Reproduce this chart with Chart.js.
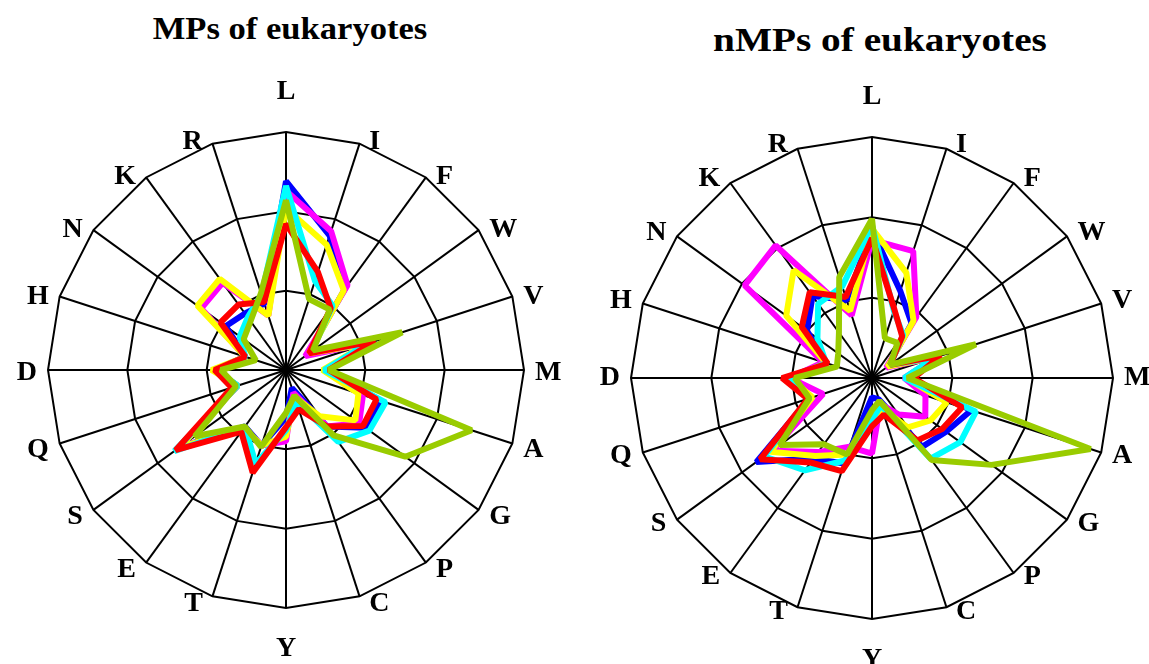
<!DOCTYPE html>
<html><head><meta charset="utf-8">
<script src="https://cdn.jsdelivr.net/npm/chart.js@4/dist/chart.umd.min.js"></script>
<style>
html,body{margin:0;padding:0;background:#fff;width:1149px;height:664px;overflow:hidden;}
.title{position:absolute;font-family:'Liberation Serif','Times New Roman',serif;font-weight:bold;line-height:1;white-space:nowrap;color:#000;text-align:center;}
#t1{left:90px;width:400px;top:12px;font-size:32px;transform:scaleX(1.08);}
#t2{left:680px;width:400px;top:24px;font-size:33px;transform:scaleX(1.19);}
.box{position:absolute;top:0;height:664px;}
#b1{left:0;width:575px;}
#b2{left:575px;width:574px;}
</style></head><body>
<div class="title" id="t1">MPs of eukaryotes</div>
<div class="title" id="t2">nMPs of eukaryotes</div>
<div class="box" id="b1"><canvas id="c1" width="575" height="664"></canvas></div>
<div class="box" id="b2"><canvas id="c2" width="574" height="664"></canvas></div>
<script>
const categories = ['L','I','F','W','V','M','A','G','P','C','Y','T','E','S','Q','D','H','N','K','R'];
const scaleMax = 15;
const scaleStep = 5;

// MPs of eukaryotes
const mpsBlue    = [11.9, 8.9, 6.3, 1.7, 5.7, 2.6, 6.3, 6.2, 4.4, 1.2, 3.0, 5.0, 4.4, 8.3, 3.2, 4.5, 2.7, 4.7, 4.4, 4.4];
const mpsMagenta = [11.3, 9.2, 6.6, 1.5, 5.7, 2.6, 5.1, 5.7, 4.4, 1.5, 4.5, 5.0, 4.5, 8.3, 3.2, 4.5, 2.7, 6.6, 6.8, 3.6];
const mpsYellow  = [10.2, 8.3, 6.2, 1.8, 5.3, 2.3, 4.8, 5.4, 3.6, 1.8, 4.2, 5.0, 4.5, 8.3, 3.2, 4.7, 2.7, 6.9, 7.1, 3.6];
const mpsCyan    = [11.6, 5.9, 5.0, 2.0, 5.4, 2.4, 6.6, 6.5, 5.6, 2.1, 3.8, 6.2, 4.4, 8.7, 3.2, 4.4, 2.7, 3.6, 4.1, 5.0];
const mpsRed     = [9.2, 6.5, 4.8, 1.8, 5.9, 2.7, 6.0, 6.0, 4.4, 2.6, 3.6, 6.8, 4.8, 8.6, 3.6, 4.5, 2.7, 5.1, 5.1, 4.5];
const mpsGreen   = [10.7, 4.7, 4.7, 2.1, 7.7, 2.7, 12.3, 9.3, 5.1, 1.7, 2.7, 5.1, 4.4, 7.1, 3.3, 4.1, 2.0, 3.3, 3.8, 5.1];

// nMPs of eukaryotes
const nmpsBlue    = [9.2, 5.7, 4.2, 1.2, 4.4, 2.1, 6.5, 5.7, 5.3, 1.4, 1.2, 5.6, 6.2, 8.9, 4.1, 5.3, 3.0, 5.0, 6.3, 5.1];
const nmpsMagenta = [8.6, 8.3, 4.7, 1.1, 4.2, 2.0, 3.5, 4.1, 2.8, 1.7, 4.7, 4.5, 5.7, 7.7, 3.2, 5.1, 3.2, 9.8, 10.2, 4.1];
const nmpsYellow  = [9.3, 6.9, 4.4, 1.2, 4.2, 2.1, 4.9, 4.5, 3.8, 2.0, 2.9, 5.0, 6.0, 7.8, 3.9, 5.1, 3.0, 6.6, 8.3, 4.4];
const nmpsCyan    = [9.5, 4.4, 3.3, 1.4, 4.1, 2.0, 6.8, 6.8, 6.2, 1.8, 2.6, 5.4, 7.1, 8.3, 4.1, 5.1, 3.0, 4.2, 5.7, 6.0];
const nmpsRed     = [8.7, 4.5, 3.2, 1.4, 4.5, 2.6, 5.9, 5.4, 4.8, 2.4, 3.0, 6.1, 6.5, 8.6, 4.2, 5.6, 2.9, 5.4, 6.6, 5.3];
const nmpsGreen   = [9.9, 2.6, 2.7, 1.4, 6.8, 2.2, 14.3, 9.2, 6.3, 1.5, 2.0, 5.0, 5.1, 7.1, 4.1, 4.8, 2.3, 2.6, 3.5, 6.6];

const seriesColors = ['#0000FF', '#FF00FF', '#FFFF00', '#00FFFF', '#FF0000', '#99CC00'];
const seriesOrder = [5, 4, 3, 2, 1, 0];

// label placement: anchor just outside the outer ring, text set beside it
const labelRadialGap = 2;
const labelHGap = 9;
const labelVGap = 36;
const labelVSpread = 2.5;

function placeScale(cx, cy, r, sideLabelDrop) {
  return function (scale) {
    scale.xCenter = cx; scale.yCenter = cy; scale.drawingArea = r;
    const rad = r + labelRadialGap;
    (scale._pointLabelItems || []).forEach(function (it, i) {
      const a = scale.getIndexAngle(i);
      let s = Math.sin(a), c = Math.cos(a);
      if (Math.abs(s) < 1e-6) s = 0;
      if (Math.abs(c) < 1e-6) c = 0;
      const w = it.right - it.left;
      let tx = cx + rad * s, ty = cy - rad * c;
      if (s === 0) ty -= Math.sign(c) * labelVGap;
      else { tx += Math.sign(s) * (labelHGap + w / 2); ty += sideLabelDrop; }
      ty -= Math.sign(c) * labelVSpread;
      const ox = tx - (it.left + it.right) / 2;
      const oy = ty - (it.top + it.bottom) / 2;
      it.x += ox; it.left += ox; it.right += ox;
      it.y += oy; it.top += oy; it.bottom += oy;
    });
  };
}

function makeChart(id, seriesList, cx, cy, r, sideLabelDrop) {
  const datasets = seriesList.map(function (vals, k) {
    return {
      label: 'Series ' + (k + 1),
      data: vals,
      borderColor: seriesColors[k],
      backgroundColor: seriesColors[k],
      borderWidth: 6,
      borderJoinStyle: 'bevel',
      fill: false,
      tension: 0,
      pointRadius: 0,
      pointHoverRadius: 0,
      order: seriesOrder[k]
    };
  });
  return new Chart(document.getElementById(id), {
    type: 'radar',
    data: { labels: categories, datasets: datasets },
    options: {
      responsive: false,
      animation: false,
      devicePixelRatio: 1,
      events: [],
      layout: { padding: 0 },
      plugins: { legend: { display: false }, tooltip: { enabled: false }, title: { display: false } },
      scales: {
        r: {
          min: 0, max: scaleMax,
          ticks: { display: false, stepSize: scaleStep },
          grid: { color: '#000', lineWidth: 2, circular: false },
          angleLines: { color: '#000', lineWidth: 2 },
          pointLabels: {
            color: '#000',
            padding: 5,
            font: { family: "'Liberation Serif', 'Times New Roman', serif", weight: 'bold', size: 28 }
          },
          afterFit: placeScale(cx, cy, r, sideLabelDrop)
        }
      }
    }
  });
}

makeChart('c1', [mpsBlue, mpsMagenta, mpsYellow, mpsCyan, mpsRed, mpsGreen], 286, 370, 238, 3);
makeChart('c2', [nmpsBlue, nmpsMagenta, nmpsYellow, nmpsCyan, nmpsRed, nmpsGreen], 297, 378, 241, 0);
</script>
</body></html>
